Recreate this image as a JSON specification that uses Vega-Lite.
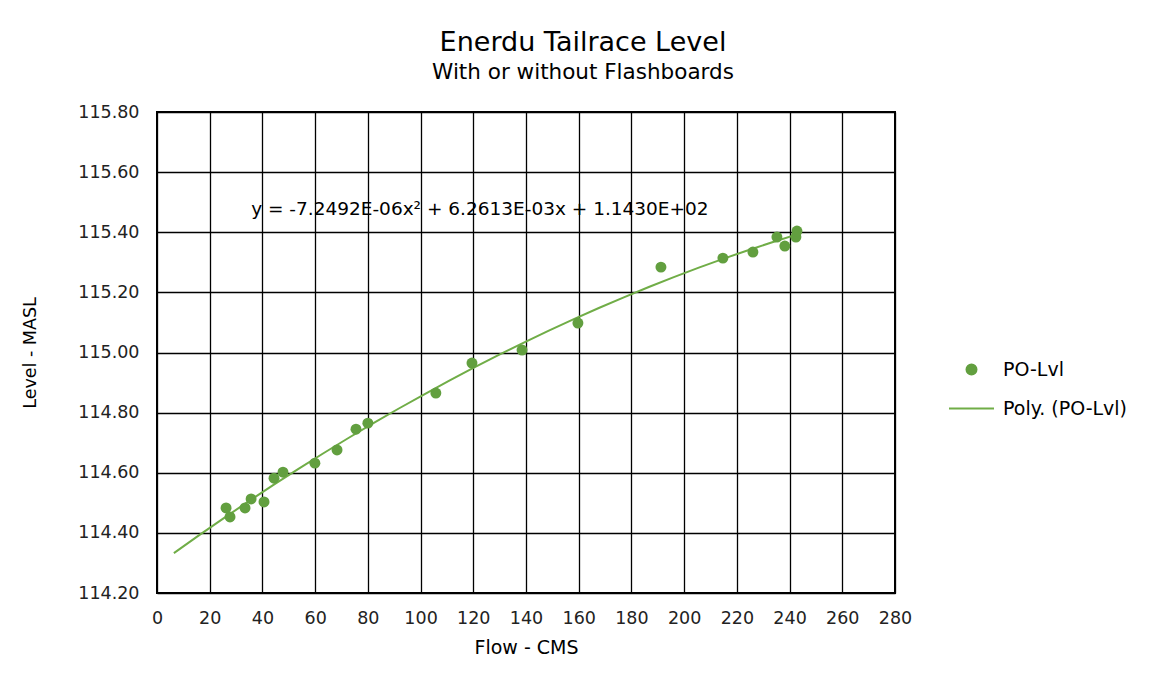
{
  "$schema": "https://vega.github.io/schema/vega-lite/v6.json",
  "width": 738,
  "height": 481,
  "autosize": {"type": "none"},
  "padding": {"left": 157, "top": 112, "right": 259, "bottom": 92},
  "background": "white",
  "title": {
    "text": "Enerdu Tailrace Level",
    "subtitle": "With or without Flashboards",
    "anchor": "middle",
    "frame": "group",
    "dx": 57,
    "offset": 19,
    "font": "DejaVu Sans",
    "fontSize": 27,
    "fontWeight": "normal",
    "color": "#000000",
    "subtitleFont": "DejaVu Sans",
    "subtitleFontSize": 21.5,
    "subtitleColor": "#000000",
    "subtitlePadding": 5
  },
  "data": {
    "values": [
      {"Flow": 26.2, "Level": 114.483},
      {"Flow": 27.7, "Level": 114.453},
      {"Flow": 33.4, "Level": 114.483},
      {"Flow": 35.7, "Level": 114.513},
      {"Flow": 40.6, "Level": 114.503},
      {"Flow": 44.4, "Level": 114.582},
      {"Flow": 47.8, "Level": 114.602},
      {"Flow": 59.9, "Level": 114.632},
      {"Flow": 68.3, "Level": 114.676},
      {"Flow": 75.5, "Level": 114.745},
      {"Flow": 80.0, "Level": 114.765},
      {"Flow": 105.8, "Level": 114.865},
      {"Flow": 119.5, "Level": 114.965},
      {"Flow": 138.5, "Level": 115.008},
      {"Flow": 159.7, "Level": 115.098},
      {"Flow": 191.2, "Level": 115.284},
      {"Flow": 214.7, "Level": 115.314},
      {"Flow": 226.1, "Level": 115.334},
      {"Flow": 235.2, "Level": 115.384},
      {"Flow": 238.2, "Level": 115.354},
      {"Flow": 242.4, "Level": 115.384},
      {"Flow": 242.8, "Level": 115.404}
    ]
  },
  "config": {
    "font": "DejaVu Sans",
    "view": {"stroke": "#000000", "strokeWidth": 2},
    "axis": {
      "grid": true,
      "gridColor": "#000000",
      "gridOpacity": 1,
      "gridWidth": 1.3,
      "domain": false,
      "ticks": false,
      "labelFlush": false,
      "labelFont": "DejaVu Sans",
      "labelFontSize": 17.5,
      "labelColor": "#222222",
      "titleFont": "DejaVu Sans",
      "titleFontWeight": "normal",
      "titleColor": "#000000"
    }
  },
  "layer": [
    {
      "mark": {"type": "line", "strokeWidth": 2, "clip": true},
      "transform": [
        {"regression": "Level", "on": "Flow", "method": "poly", "order": 2, "extent": [6.4, 243.5]}
      ],
      "encoding": {
        "x": {
          "field": "Flow",
          "type": "quantitative",
          "scale": {"domain": [0, 280], "nice": false, "zero": false},
          "axis": {
            "values": [0, 20, 40, 60, 80, 100, 120, 140, 160, 180, 200, 220, 240, 260, 280],
            "title": "Flow - CMS",
            "titleFontSize": 19,
            "labelPadding": 16,
            "titlePadding": 12
          }
        },
        "y": {
          "field": "Level",
          "type": "quantitative",
          "scale": {"domain": [114.2, 115.8], "nice": false, "zero": false},
          "axis": {
            "values": [114.2, 114.4, 114.6, 114.8, 115.0, 115.2, 115.4, 115.6, 115.8],
            "format": ".2f",
            "title": "Level - MASL",
            "titleFontSize": 17.5,
            "labelPadding": 18,
            "titlePadding": 38
          }
        },
        "color": {
          "datum": "Poly. (PO-Lvl)",
          "scale": {"domain": ["PO-Lvl", "Poly. (PO-Lvl)"], "range": ["#629F3F", "#70AD47"]},
          "legend": {
            "title": null,
            "orient": "none",
            "legendX": 791,
            "legendY": 234,
            "labelFont": "DejaVu Sans",
            "labelFontSize": 19,
            "labelColor": "#000000",
            "labelOffset": 8,
            "rowPadding": 5,
            "symbolSize": 100,
            "encode": {
              "symbols": {
                "update": {
                  "shape": {"signal": "datum.value === 'PO-Lvl' ? 'circle' : 'M-1,0H1'"},
                  "size": {"signal": "datum.value === 'PO-Lvl' ? 100 : 2025"},
                  "fill": {"signal": "datum.value === 'PO-Lvl' ? '#629F3F' : 'transparent'"},
                  "stroke": {"signal": "datum.value === 'PO-Lvl' ? 'transparent' : '#70AD47'"},
                  "strokeWidth": {"value": 2},
                  "opacity": {"value": 1}
                }
              }
            }
          }
        }
      }
    },
    {
      "mark": {"type": "point", "filled": true, "opacity": 1, "size": 120},
      "encoding": {
        "x": {"field": "Flow", "type": "quantitative"},
        "y": {"field": "Level", "type": "quantitative"},
        "color": {"datum": "PO-Lvl"}
      }
    },
    {
      "data": {"values": [{"label": "y = -7.2492E-06x² + 6.2613E-03x + 1.1430E+02"}]},
      "mark": {"type": "text", "font": "DejaVu Sans", "fontSize": 18.5, "color": "#000000", "align": "center", "baseline": "middle"},
      "encoding": {
        "x": {"datum": 122.5},
        "y": {"datum": 115.477},
        "text": {"field": "label"}
      }
    }
  ]
}
